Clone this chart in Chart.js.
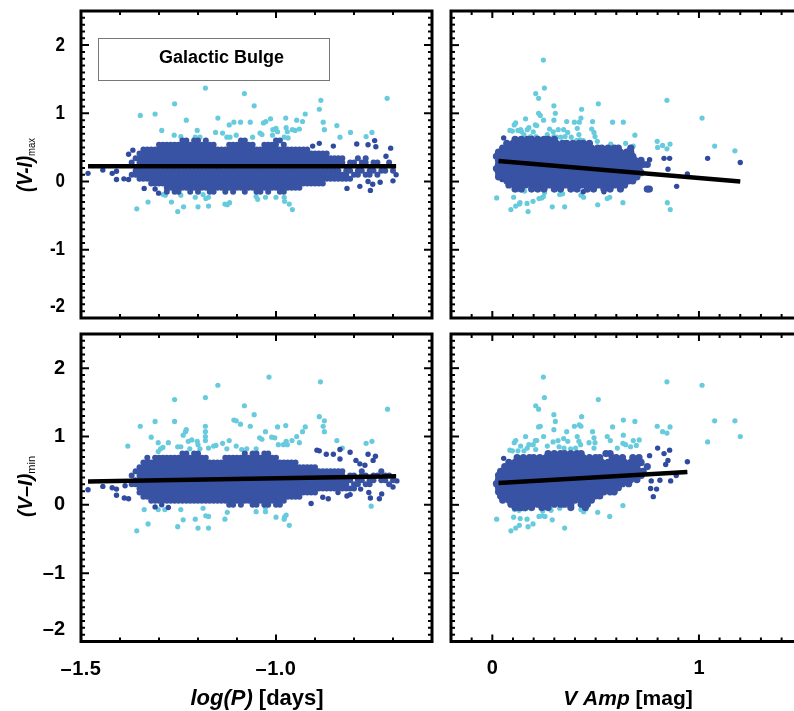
<!DOCTYPE html>
<html>
<head>
<meta charset="utf-8">
<script src="https://cdn.jsdelivr.net/npm/chart.js@4"></script>
<style>
  body { margin: 0; background: white; }
  canvas { position: absolute; left: 0; top: 0; }
</style>
</head>
<body>
<canvas id="topLeft" width="794" height="711"></canvas>
<canvas id="topRight" width="794" height="711"></canvas>
<canvas id="bottomLeft" width="794" height="711"></canvas>
<canvas id="bottomRight" width="794" height="711"></canvas>
<script>
// tick labels
const yTicks = [2, 1, 0, -1, -2];
const logPTicks = [-1.5, -1.0];
const ampTicks = [0, 1];

// fit lines
const fitMaxLogP = [[-1.482, .225], [-.692, .225]];
const fitMaxAmp = [[.03, .30], [1.2, 0]];
const fitMinLogP = [[-1.482, .34], [-.692, .42]];
const fitMinAmp = [[.03, .32], [.944, .48]];

// outliers, top left
const maxLogPCyan = [[-1.348,.97],[-1.31,.99],[-1.293,.75],[-1.26,1.14],[-1.181,1.37],[-1.081,1.29],[-1.056,1.11],[-.885,1.19],[-.889,1.06],[-.715,1.22],[-.844,.82],[-.925,.99],[-.947,.9],[-.932,.88],[-.975,.93],[-1.014,.92],[-1.026,.88],[-1.032,.86],[-1.066,.87],[-1.091,.87],[-1.108,.87],[-1.12,.83],[-1.149,.93],[-1.23,.9],[-1.202,.75],[-1.155,.72],[-1.137,.71],[-1.126,.65],[-1.118,.65],[-1.102,.68],[-1.06,.65],[-1.041,.71],[-1.036,.69],[-1.008,.76],[-1,.78],[-1.009,.68],[-.996,.73],[-.974,.79],[-.971,.73],[-.958,.76],[-.951,.75],[-.94,.77],[-.879,.87],[-.876,.76],[-.836,.65],[-.809,.72],[-.754,.72],[-.769,.66],[-.979,.65],[-.969,.64],[-1.261,.68],[-1.244,.66],[-1.195,.65],[-1.207,.65],[-1.357,-.4],[-1.328,-.3],[-1.289,-.19],[-1.284,-.2],[-1.268,-.3],[-1.252,-.44],[-1.244,-.2],[-1.237,-.37],[-1.207,-.23],[-1.2,-.37],[-1.187,-.19],[-1.18,-.25],[-1.173,-.23],[-1.173,-.36],[-1.131,-.33],[-1.125,-.34],[-1.119,-.31],[-1.051,-.22],[-1.047,-.26],[-1.027,-.23],[-1,-.23],[-.979,-.23],[-.978,-.29],[-.966,-.33],[-.958,-.41]];
const maxLogPDark = [[-1.482,.12],[-1.444,.17],[-1.42,.12],[-1.409,.15],[-1.409,.03],[-1.39,.04],[-1.378,.03],[-1.378,.4],[-1.367,.46],[-1.338,-.1],[-1.31,-.11],[-1.301,-.17],[-.818,-.1],[-.785,-.07],[-.764,0],[-.758,-.13],[-.752,-.04],[-.733,-.01],[-.7,.01],[-.692,.1],[-.706,.49],[-.747,.6],[-.744,.51],[-.764,.54],[-.793,.55],[-.853,.52],[-.889,.56],[-.906,.52],[-.718,.37]];
const maxLogPCore = [
  [.60, [-1.24,-1.23,-1.21,-1.20,-1.18,-1.09,-1.08,-1.00,-.99]],
  [.54, [-1.30,-1.28,-1.27,-1.25,-1.24,-1.22,-1.21,-1.19,-1.18,-1.16,-1.12,-1.10,-1.09,-1.07,-1.06,-1.03,-1.01,-1.00,-.98]],
  [.47, [-1.34,-1.32,-1.31,-1.29,-1.28,-1.26,-1.25,-1.23,-1.22,-1.20,-1.19,-1.17,-1.16,-1.14,-1.13,-1.11,-1.10,-1.08,-1.07,-1.05,-1.04,-1.02,-1.01,-.99,-.98,-.96,-.95,-.93,-.92]],
  [.41, [-1.35,-1.33,-1.32,-1.30,-1.29,-1.27,-1.26,-1.24,-1.23,-1.21,-1.20,-1.18,-1.17,-1.15,-1.14,-1.12,-1.11,-1.09,-1.08,-1.06,-1.05,-1.03,-1.02,-1.00,-.99,-.97,-.96,-.94,-.93,-.91,-.90,-.88,-.87]],
  [.34, [-1.36,-1.34,-1.33,-1.31,-1.30,-1.28,-1.27,-1.25,-1.24,-1.22,-1.21,-1.19,-1.18,-1.16,-1.15,-1.13,-1.12,-1.10,-1.09,-1.07,-1.06,-1.04,-1.03,-1.01,-1.00,-.98,-.97,-.95,-.94,-.92,-.91,-.89,-.88,-.86,-.85,-.83,-.79,-.77]],
  [.28, [-1.37,-1.35,-1.34,-1.32,-1.31,-1.29,-1.28,-1.26,-1.25,-1.23,-1.22,-1.20,-1.19,-1.17,-1.16,-1.14,-1.13,-1.11,-1.10,-1.08,-1.07,-1.05,-1.04,-1.02,-1.01,-.99,-.98,-.96,-.95,-.93,-.92,-.90,-.89,-.87,-.86,-.84,-.83,-.81,-.80,-.78,-.77,-.75,-.74,-.71]],
  [.16, [-1.36,-1.35,-1.33,-1.32,-1.30,-1.29,-1.27,-1.26,-1.24,-1.23,-1.21,-1.20,-1.18,-1.17,-1.15,-1.14,-1.12,-1.11,-1.09,-1.08,-1.06,-1.05,-1.03,-1.02,-1.00,-.99,-.97,-.96,-.94,-.93,-.91,-.90,-.88,-.87,-.85,-.84,-.82,-.81,-.79,-.78,-.76,-.75,-.73,-.72,-.70]],
  [.10, [-1.37,-1.36,-1.34,-1.33,-1.31,-1.30,-1.28,-1.27,-1.25,-1.24,-1.22,-1.21,-1.19,-1.18,-1.16,-1.15,-1.13,-1.12,-1.10,-1.09,-1.07,-1.06,-1.04,-1.03,-1.01,-1.00,-.98,-.97,-.95,-.94,-.92,-.91,-.89,-.88,-.86,-.85,-.83,-.82,-.80,-.79,-.77,-.76,-.74]],
  [.04, [-1.35,-1.34,-1.32,-1.31,-1.29,-1.28,-1.26,-1.25,-1.23,-1.22,-1.20,-1.19,-1.17,-1.16,-1.14,-1.13,-1.11,-1.10,-1.08,-1.07,-1.05,-1.04,-1.02,-1.01,-.99,-.98,-.96,-.95,-.93,-.92,-.90,-.89,-.87,-.86,-.84,-.83,-.81]],
  [-.03, [-1.32,-1.30,-1.29,-1.27,-1.26,-1.24,-1.23,-1.21,-1.20,-1.18,-1.17,-1.15,-1.14,-1.12,-1.11,-1.09,-1.08,-1.06,-1.05,-1.03,-1.02,-1.00,-.99,-.97,-.96,-.94,-.93,-.91,-.90,-.88]],
  [-.09, [-1.28,-1.27,-1.25,-1.24,-1.22,-1.21,-1.19,-1.18,-1.16,-1.15,-1.13,-1.12,-1.10,-1.09,-1.07,-1.06,-1.04,-1.03,-1.01,-1.00,-.98,-.97,-.95,-.94]],
  [-.15, [-1.28,-1.26,-1.25,-1.22,-1.20,-1.17,-1.16,-1.13,-1.11,-1.08,-1.05,-1.04,-1.02,-.99,-.98]],
  // solid interior of the cloud
  [.54, [-1.29,-1.26,-1.23,-1.20,-1.17,-1.11,-1.08,-1.02]],
  [.47, [-1.33,-1.30,-1.27,-1.24,-1.21,-1.18,-1.15,-1.12,-1.09,-1.06,-1.03,-1.00,-.97,-.94]],
  [.41, [-1.34,-1.31,-1.28,-1.25,-1.22,-1.19,-1.16,-1.13,-1.10,-1.07,-1.04,-1.01,-.98,-.95,-.92,-.89]],
  [.34, [-1.35,-1.32,-1.29,-1.26,-1.23,-1.20,-1.17,-1.14,-1.11,-1.08,-1.05,-1.02,-.99,-.96,-.93,-.90,-.87,-.84]],
  [.28, [-1.33,-1.30,-1.27,-1.24,-1.21,-1.18,-1.15,-1.12,-1.09,-1.06,-1.03,-1.00,-.97,-.94,-.91,-.88,-.85]],
  [.16, [-1.34,-1.31,-1.28,-1.25,-1.22,-1.19,-1.16,-1.13,-1.10,-1.07,-1.04,-1.01,-.98,-.95,-.92,-.89,-.86]],
  [.10, [-1.35,-1.32,-1.29,-1.26,-1.23,-1.20,-1.17,-1.14,-1.11,-1.08,-1.05,-1.02,-.99,-.96,-.93,-.90,-.87,-.84]],
  [.04, [-1.33,-1.30,-1.27,-1.24,-1.21,-1.18,-1.15,-1.12,-1.09,-1.06,-1.03,-1.00,-.97,-.94,-.91,-.88,-.85,-.82]],
  [-.03, [-1.31,-1.28,-1.25,-1.22,-1.19,-1.16,-1.13,-1.10,-1.07,-1.04,-1.01,-.98,-.95,-.92,-.89]],
  [-.09, [-1.26,-1.23,-1.20,-1.17,-1.14,-1.11,-1.08,-1.05,-1.02,-.99,-.96]]
];

// outliers, top right
const maxAmpCyan = [[.247,1.78],[.252,1.37],[.21,1.29],[.224,1.22],[.298,1.11],[.432,1.06],[.513,1.14],[.845,1.19],[.224,1],[.232,.97],[.305,1],[.298,.9],[.248,.9],[.161,.92],[.36,.88],[.397,.87],[.421,.87],[.429,.93],[.485,.88],[.582,.87],[.634,.87],[1.015,.93],[.113,.86],[.106,.83],[.208,.83],[.215,.82],[.177,.79],[.169,.76],[.085,.75],[.097,.74],[.124,.75],[.137,.76],[.142,.73],[.153,.69],[.198,.73],[.277,.77],[.319,.76],[.345,.76],[.365,.72],[.295,.73],[.298,.66],[.266,.69],[.411,.78],[.481,.77],[.492,.72],[.497,.66],[.419,.69],[.382,.65],[.352,.66],[.331,.65],[.31,.65],[.185,.66],[.211,.66],[.424,.61],[.408,.6],[.44,.6],[.508,.59],[.573,.55],[.645,.56],[.69,.68],[.798,.59],[.8,.5],[.824,.53],[.845,.48],[.86,.55],[1.076,.52],[1.174,.45],[.682,.52],[.021,-.24],[.09,-.41],[.103,-.23],[.113,-.36],[.124,-.12],[.108,-.1],[.134,-.31],[.131,-.33],[.156,-.14],[.168,-.32],[.173,-.44],[.197,-.29],[.226,-.25],[.239,-.24],[.247,-.22],[.253,-.16],[.29,-.37],[.326,-.19],[.34,-.18],[.35,-.37],[.429,-.2],[.442,-.23],[.51,-.34],[.556,-.25],[.568,-.23],[.632,-.31],[.847,-.31],[.861,-.41]];
const maxAmpDark = [[1.042,.34],[1.2,.28],[.892,-.07],[.944,.11],[.831,.34],[.858,.34],[.761,.32],[.055,.64],[.047,.03],[.85,.18],[.44,-.15],[.54,-.15]];
const maxAmpCore = [
  [.62, [.11,.14,.17,.19,.22,.25,.27,.30]],
  [.56, [.07,.10,.12,.15,.18,.20,.23,.26,.28,.31,.34,.36,.39,.42,.44,.47]],
  [.49, [.05,.08,.11,.13,.16,.19,.21,.24,.27,.29,.32,.35,.37,.40,.43,.45,.48,.51,.53,.56,.59,.61,.67]],
  [.43, [.03,.06,.09,.11,.14,.17,.19,.22,.25,.27,.30,.33,.35,.38,.41,.43,.46,.49,.51,.54,.57,.59,.62,.65,.67]],
  [.37, [.02,.04,.07,.10,.12,.15,.18,.20,.23,.26,.28,.31,.34,.36,.39,.42,.44,.47,.50,.52,.55,.58,.60,.63,.66,.68]],
  [.31, [.03,.05,.08,.11,.13,.16,.19,.21,.24,.27,.29,.32,.35,.37,.40,.43,.45,.48,.51,.53,.56,.59,.61,.64,.67,.69,.72]],
  [.25, [.03,.06,.09,.11,.14,.17,.19,.22,.25,.27,.30,.33,.35,.38,.41,.43,.46,.49,.51,.54,.57,.59,.62,.65,.67,.70,.73,.75]],
  [.19, [.02,.04,.07,.10,.12,.15,.18,.20,.23,.26,.28,.31,.34,.36,.39,.42,.44,.47,.50,.52,.55,.58,.60,.63,.66,.68,.71]],
  [.13, [.03,.05,.08,.11,.13,.16,.19,.21,.24,.27,.29,.32,.35,.37,.40,.43,.45,.48,.51,.53,.56,.59,.61,.64,.67,.69,.72]],
  [.07, [.03,.06,.09,.11,.14,.17,.19,.22,.25,.27,.30,.33,.35,.38,.41,.43,.46,.49,.51,.54,.57,.59,.62,.65,.67,.70]],
  [.01, [.07,.10,.12,.15,.18,.20,.23,.26,.28,.31,.34,.36,.39,.42,.44,.47,.50,.52,.55,.58,.60,.63,.66,.68]],
  [-.05, [.08,.11,.13,.16,.19,.21,.24,.27,.29,.32,.35,.37,.40,.43,.45,.48,.51,.53,.56,.59,.61,.64]],
  [-.11, [.11,.14,.19,.22,.25,.30,.33,.38,.41,.46,.49,.54,.57,.62,.75,.76]]
];

// outliers, bottom left
const minLogPCyan = [[-1.018,1.87],[-.886,1.8],[-1.149,1.75],[-1.26,1.54],[-1.181,1.57],[-1.081,1.45],[-1.056,1.32],[-.714,1.4],[-.889,1.29],[-.876,1.23],[-1.108,1.24],[-1.102,1.23],[-1.091,1.18],[-1.066,1.15],[-1.31,1.22],[-1.26,1.22],[-1.348,1.15],[-1.181,1.15],[-.996,1.14],[-.975,1.16],[-.879,1.15],[-.876,1.07],[-.925,1.14],[-.932,1.07],[-1.027,1.07],[-1.23,1.1],[-1.232,1.07],[-1.238,1.02],[-1.181,1.07],[-1.181,1],[-1.181,.94],[-1.32,.99],[-1.302,.91],[-1.276,.91],[-1.38,.86],[-1.29,.84],[-1.296,.82],[-1.302,.78],[-1.252,.85],[-1.244,.85],[-1.225,.93],[-1.216,.95],[-1.202,.93],[-1.2,.88],[-1.221,.82],[-1.195,.82],[-1.173,.83],[-1.16,.86],[-1.154,.87],[-1.137,.9],[-1.12,.94],[-1.102,.86],[-1.126,.82],[-1.088,.81],[-1.075,.82],[-1.051,.82],[-1.042,.98],[-1.036,.96],[-1.011,.99],[-1.003,.98],[-.947,1],[-.959,.94],[-.974,.93],[-.994,.88],[-.981,.88],[-.971,.88],[-.94,.91],[-.844,.94],[-.769,.9],[-.754,.93],[-.83,.83],[-1.357,-.38],[-1.338,-.07],[-1.328,-.28],[-1.302,-.07],[-1.285,-.07],[-1.252,-.32],[-1.238,-.22],[-1.244,-.07],[-1.207,-.21],[-1.2,-.34],[-1.187,-.05],[-1.18,-.16],[-1.173,-.17],[-1.173,-.34],[-1.131,-.21],[-1.125,-.11],[-1.051,-.1],[-1.027,-.1],[-1.027,-.04],[-1,-.18],[-.979,-.21],[-.978,-.18],[-.974,-.15],[-.966,-.3],[-.756,-.02]];
const minLogPDark = [[-1.482,.22],[-1.444,.27],[-1.42,.25],[-1.409,.23],[-1.409,.14],[-1.387,.28],[-1.389,.1],[-1.378,.09],[-1.31,-.03],[-1.293,0],[-1.276,-.04],[-.91,.02],[-.88,.11],[-.866,.09],[-.841,.18],[-.818,.13],[-.81,.15],[-.783,.23],[-.762,.18],[-.758,.1],[-.729,.16],[-.735,.09],[-.7,.26],[-.69,.35],[-.81,.77],[-.836,.67],[-.853,.74],[-.871,.74],[-.836,.81],[-.895,.8],[-.889,.79],[-.745,.71],[-.764,.74],[-.751,.65],[-.795,.65],[-.785,.6],[-.772,.58]];
const minLogPCore = [
  [.75, [-1.24,-1.23,-1.21,-1.20,-1.08,-1.06,-1.05,-1.03,-1.02]],
  [.69, [-1.33,-1.31,-1.30,-1.28,-1.27,-1.25,-1.24,-1.22,-1.21,-1.19,-1.18,-1.13,-1.12,-1.10,-1.09,-1.07,-1.06,-1.04,-1.03,-1.01,-1.00]],
  [.62, [-1.34,-1.32,-1.31,-1.29,-1.28,-1.26,-1.25,-1.23,-1.22,-1.20,-1.19,-1.17,-1.16,-1.14,-1.13,-1.11,-1.10,-1.08,-1.07,-1.05,-1.04,-1.02,-1.01,-.99,-.98,-.96,-.95]],
  [.55, [-1.35,-1.33,-1.32,-1.30,-1.29,-1.27,-1.26,-1.24,-1.23,-1.21,-1.20,-1.18,-1.17,-1.15,-1.14,-1.12,-1.11,-1.09,-1.08,-1.06,-1.05,-1.03,-1.02,-1.00,-.99,-.97,-.96,-.94,-.93,-.91,-.90]],
  [.49, [-1.36,-1.34,-1.33,-1.31,-1.30,-1.28,-1.27,-1.25,-1.24,-1.22,-1.21,-1.19,-1.18,-1.16,-1.15,-1.13,-1.12,-1.10,-1.09,-1.07,-1.06,-1.04,-1.03,-1.01,-1.00,-.98,-.97,-.95,-.94,-.92,-.91,-.89,-.88,-.86,-.85,-.83,-.78,-.73]],
  [.43, [-1.37,-1.35,-1.34,-1.32,-1.31,-1.29,-1.28,-1.26,-1.25,-1.23,-1.22,-1.20,-1.19,-1.17,-1.16,-1.14,-1.13,-1.11,-1.10,-1.08,-1.07,-1.05,-1.04,-1.02,-1.01,-.99,-.98,-.96,-.95,-.93,-.92,-.90,-.89,-.87,-.86,-.84,-.83,-.81,-.80,-.78,-.77,-.75,-.74,-.72,-.71]],
  [.36, [-1.36,-1.35,-1.33,-1.32,-1.30,-1.29,-1.27,-1.26,-1.24,-1.23,-1.21,-1.20,-1.18,-1.17,-1.15,-1.14,-1.12,-1.11,-1.09,-1.08,-1.06,-1.05,-1.03,-1.02,-1.00,-.99,-.97,-.96,-.94,-.93,-.91,-.90,-.88,-.87,-.85,-.84,-.82,-.81,-.79,-.78,-.76,-.75,-.73,-.72,-.70]],
  [.30, [-1.37,-1.36,-1.34,-1.33,-1.31,-1.30,-1.28,-1.27,-1.25,-1.24,-1.22,-1.21,-1.19,-1.18,-1.16,-1.15,-1.13,-1.12,-1.10,-1.09,-1.07,-1.06,-1.04,-1.03,-1.01,-1.00,-.98,-.97,-.95,-.94,-.92,-.91,-.89,-.88,-.86,-.85,-.83,-.82,-.80,-.79,-.77,-.76,-.71]],
  [.24, [-1.35,-1.34,-1.32,-1.31,-1.29,-1.28,-1.26,-1.25,-1.23,-1.22,-1.20,-1.19,-1.17,-1.16,-1.14,-1.13,-1.11,-1.10,-1.08,-1.07,-1.05,-1.04,-1.02,-1.01,-.99,-.98,-.96,-.95,-.93,-.92,-.90,-.89,-.87,-.86,-.84,-.83,-.81,-.80]],
  [.18, [-1.35,-1.33,-1.32,-1.30,-1.29,-1.27,-1.26,-1.24,-1.23,-1.21,-1.20,-1.18,-1.17,-1.15,-1.14,-1.12,-1.11,-1.09,-1.08,-1.06,-1.05,-1.03,-1.02,-1.00,-.99,-.97,-.96,-.94,-.93,-.91,-.90]],
  [.12, [-1.34,-1.33,-1.31,-1.30,-1.28,-1.27,-1.25,-1.24,-1.22,-1.21,-1.19,-1.18,-1.16,-1.15,-1.13,-1.12,-1.10,-1.09,-1.07,-1.06,-1.04,-1.03,-1.01,-1.00,-.98,-.97,-.95,-.94]],
  [.06, [-1.32,-1.31,-1.29,-1.28,-1.26,-1.25,-1.23,-1.22,-1.20,-1.19,-1.17,-1.16,-1.14,-1.13,-1.11,-1.10,-1.08,-1.07,-1.05,-1.04,-1.02,-1.01,-.99,-.98]],
  [.00, [-1.12,-1.11,-1.09,-1.06,-1.05,-1.03,-1.02,-1.00,-.99]],
  // solid interior of the cloud
  [.69, [-1.29,-1.26,-1.23,-1.20,-1.11,-1.08,-1.05,-1.02]],
  [.62, [-1.33,-1.30,-1.27,-1.24,-1.21,-1.18,-1.15,-1.12,-1.09,-1.06,-1.03,-1.00,-.97]],
  [.55, [-1.34,-1.31,-1.28,-1.25,-1.22,-1.19,-1.16,-1.13,-1.10,-1.07,-1.04,-1.01,-.98,-.95,-.92]],
  [.49, [-1.35,-1.32,-1.29,-1.26,-1.23,-1.20,-1.17,-1.14,-1.11,-1.08,-1.05,-1.02,-.99,-.96,-.93,-.90,-.87,-.84]],
  [.43, [-1.33,-1.30,-1.27,-1.24,-1.21,-1.18,-1.15,-1.12,-1.09,-1.06,-1.03,-1.00,-.97,-.94,-.91,-.88,-.85]],
  [.36, [-1.34,-1.31,-1.28,-1.25,-1.22,-1.19,-1.16,-1.13,-1.10,-1.07,-1.04,-1.01,-.98,-.95,-.92,-.89,-.86,-.83]],
  [.30, [-1.35,-1.32,-1.29,-1.26,-1.23,-1.20,-1.17,-1.14,-1.11,-1.08,-1.05,-1.02,-.99,-.96,-.93,-.90,-.87,-.84]],
  [.24, [-1.33,-1.30,-1.27,-1.24,-1.21,-1.18,-1.15,-1.12,-1.09,-1.06,-1.03,-1.00,-.97,-.94,-.91,-.88,-.85,-.82]],
  [.18, [-1.34,-1.31,-1.28,-1.25,-1.22,-1.19,-1.16,-1.13,-1.10,-1.07,-1.04,-1.01,-.98,-.95,-.92]],
  [.12, [-1.32,-1.29,-1.26,-1.23,-1.20,-1.17,-1.14,-1.11,-1.08,-1.05,-1.02,-.99,-.96]],
  [.06, [-1.30,-1.27,-1.24,-1.21,-1.18,-1.15,-1.12,-1.09,-1.06,-1.03,-1.00]]
];

// outliers, bottom right
const minAmpCyan = [[.247,1.87],[.845,1.8],[1.015,1.75],[.252,1.57],[.513,1.54],[.21,1.45],[.224,1.4],[.298,1.32],[.432,1.29],[.305,1.22],[.634,1.24],[.69,1.22],[1.076,1.23],[1.174,1.23],[.397,1.15],[.421,1.17],[.429,1.15],[.582,1.14],[.224,1.14],[.232,1.15],[.298,1.1],[.36,1.07],[.485,1.07],[.798,1.15],[.824,1.07],[.845,1.05],[.86,1.14],[.634,1.02],[1.2,1],[1.042,.92],[.161,1],[.248,1],[.113,.94],[.106,.91],[.208,.94],[.215,.94],[.137,.86],[.177,.88],[.198,.88],[.169,.83],[.085,.8],[.097,.79],[.124,.79],[.153,.79],[.21,.81],[.266,.86],[.294,.92],[.318,.94],[.345,.97],[.365,.93],[.411,1],[.419,.93],[.468,.91],[.492,.98],[.497,.91],[.556,1],[.571,.94],[.605,.83],[.632,.9],[.645,.88],[.669,.85],[.682,.94],[.711,.95],[.697,.87],[.323,.85],[.347,.83],[.379,.82],[.403,.83],[.427,.88],[.492,.83],[.021,-.21],[.09,-.38],[.103,-.18],[.113,-.34],[.131,-.3],[.135,-.2],[.108,-.07],[.129,-.08],[.156,-.06],[.168,-.21],[.173,-.32],[.197,-.28],[.226,-.17],[.242,-.16],[.255,-.17],[.244,-.09],[.29,-.22],[.284,-.08],[.326,-.05],[.35,-.34],[.429,-.07],[.442,-.1],[.452,-.06],[.51,-.11],[.568,-.17],[.632,-.01]];
const minAmpDark = [[.944,.63],[.8,.83],[.858,.8],[.831,.75],[.85,.65],[.839,.59],[.761,.72],[.779,.12],[.766,.24],[.795,.23],[.811,.36],[.863,.35],[.89,.43],[.769,.35],[.055,.68],[.047,.09]];
const minAmpCore = [
  [.75, [.27,.30,.33,.35,.38,.41,.43,.55,.57]],
  [.69, [.12,.15,.18,.20,.23,.26,.28,.31,.34,.36,.39,.42,.44,.47,.50,.52,.58,.60,.63,.68,.71]],
  [.62, [.08,.11,.13,.16,.19,.21,.24,.27,.29,.32,.35,.37,.40,.43,.45,.48,.51,.53,.56,.59,.61,.64,.67,.69,.72]],
  [.56, [.06,.09,.11,.14,.17,.19,.22,.25,.27,.30,.33,.35,.38,.41,.43,.46,.49,.51,.54,.57,.59,.62,.65,.67,.70,.75]],
  [.49, [.04,.07,.10,.12,.15,.18,.20,.23,.26,.28,.31,.34,.36,.39,.42,.44,.47,.50,.52,.55,.58,.60,.63,.66,.68,.71,.73]],
  [.43, [.03,.05,.08,.11,.13,.16,.19,.21,.24,.27,.29,.32,.35,.37,.40,.43,.45,.48,.51,.53,.56,.59,.61,.64,.67,.69,.72]],
  [.37, [.03,.06,.09,.11,.14,.17,.19,.22,.25,.27,.30,.33,.35,.38,.41,.43,.46,.49,.51,.54,.57,.59,.62,.65,.67,.70]],
  [.31, [.02,.04,.07,.10,.12,.15,.18,.20,.23,.26,.28,.31,.34,.36,.39,.42,.44,.47,.50,.52,.55,.58,.60,.63,.66]],
  [.25, [.03,.05,.08,.11,.13,.16,.19,.21,.24,.27,.29,.32,.35,.37,.40,.43,.45,.48,.51,.53,.56,.59,.61]],
  [.19, [.03,.06,.09,.11,.14,.17,.19,.22,.25,.27,.30,.33,.35,.38,.41,.43,.46,.49,.51,.54,.57,.59]],
  [.13, [.04,.07,.10,.12,.15,.18,.20,.23,.26,.28,.31,.34,.36,.39,.42,.44,.47,.50,.52]],
  [.07, [.05,.08,.11,.13,.16,.19,.21,.24,.27,.29,.32,.35,.37,.40,.43,.45,.48]],
  [.01, [.09,.11,.14,.17,.19,.22,.25,.27,.30,.33,.35,.38,.43,.46]],
  [-.04, [.11,.13,.14,.16,.19,.24,.27,.38,.45]]
];

const DARK = '#3953a4';
const CYAN = '#67cbdd';
const FONT = '"Liberation Sans", Arial, sans-serif';

function pairs(list) {
  return list.map(([x, y]) => ({ x, y }));
}

function rows(list) {
  return list.flatMap(([y, xs]) => xs.map((x) => ({ x, y })));
}

// frame, inward ticks, tick labels and titles all go through the chart's scales
function framePlugin(o) {
  return {
    id: 'frame',
    afterDraw(chart) {
      const { ctx, chartArea: a, scales: { x, y } } = chart;
      ctx.save();
      ctx.strokeStyle = 'black';
      ctx.fillStyle = 'black';

      for (let i = -20; i <= 25; i++) {
        const p = y.getPixelForValue(i / 10);
        const len = i % 10 === 0 ? 8 : 4;
        ctx.lineWidth = 2;
        ctx.beginPath();
        ctx.moveTo(a.left, p);
        ctx.lineTo(a.left + len, p);
        if (!o.openRight) {
          ctx.moveTo(a.right, p);
          ctx.lineTo(a.right - len, p);
        }
        ctx.stroke();
      }
      for (let i = Math.ceil(x.min * 10); i <= Math.floor(x.max * 10); i++) {
        const p = x.getPixelForValue(i / 10);
        const len = i % 10 === 0 ? 7 : 4;
        ctx.lineWidth = 2;
        ctx.beginPath();
        ctx.moveTo(p, a.top);
        ctx.lineTo(p, a.top + len);
        ctx.moveTo(p, a.bottom);
        ctx.lineTo(p, a.bottom - len);
        ctx.stroke();
      }

      ctx.lineWidth = 3;
      ctx.beginPath();
      ctx.moveTo(a.right, a.top);
      ctx.lineTo(a.left, a.top);
      ctx.lineTo(a.left, a.bottom);
      ctx.lineTo(a.right, a.bottom);
      if (!o.openRight) ctx.closePath();
      ctx.stroke();

      if (o.yLabels) o.yLabels(ctx, y);
      if (o.xLabels) o.xLabels(ctx, x);
      if (o.extra) o.extra(ctx);
      ctx.restore();
    },
  };
}

function squeezed(ctx, text, px, py, sx, font, align) {
  ctx.save();
  ctx.translate(px, py);
  ctx.scale(sx, 1);
  ctx.font = font;
  ctx.textAlign = align;
  ctx.textBaseline = 'middle';
  ctx.fillText(text, 0, 0);
  ctx.restore();
}

function yLabelsTop(ctx, y) {
  yTicks.forEach((t) => {
    const py = y.getPixelForValue(t) + (t === -2 ? -12 : 0);
    squeezed(ctx, String(t), 65, py, 0.85, 'bold 20px ' + FONT, 'right');
  });
}

function yLabelsBottom(ctx, y) {
  yTicks.forEach((t) => {
    const py = y.getPixelForValue(t) + (t === -2 ? -12 : 0);
    const s = t < 0 ? '\u2013' + Math.abs(t) : String(t);
    squeezed(ctx, s, 65, py, 1, 'bold 20px ' + FONT, 'right');
  });
}

function xTitle(ctx, italic, plain, cx, size) {
  const a = 'italic bold ' + size + 'px ' + FONT;
  const b = 'bold ' + size + 'px ' + FONT;
  ctx.font = a;
  const wa = ctx.measureText(italic).width;
  ctx.font = b;
  const wb = ctx.measureText(plain).width;
  const left = cx - (wa + wb) / 2;
  ctx.textAlign = 'left';
  ctx.textBaseline = 'alphabetic';
  ctx.font = a;
  ctx.fillText(italic, left, 705);
  ctx.font = b;
  ctx.fillText(plain, left + wa, 705);
}

function yTitle(ctx, main, sub, baseX, startY, sx, size) {
  ctx.save();
  ctx.translate(baseX, startY);
  ctx.rotate(-Math.PI / 2);
  ctx.scale(sx, 1);
  ctx.textAlign = 'left';
  ctx.textBaseline = 'alphabetic';
  ctx.font = 'italic bold ' + size + 'px ' + FONT;
  ctx.fillText(main, 0, 0);
  const w = ctx.measureText(main).width;
  ctx.font = '11px ' + FONT;
  ctx.fillText(sub, w, 3);
  ctx.restore();
}

function panel(id, o) {
  new Chart(document.getElementById(id), {
    type: 'scatter',
    plugins: [framePlugin(o)],
    data: {
      datasets: [
        { data: pairs(o.fit), showLine: true, borderColor: 'black', borderWidth: 4.5, pointRadius: 0, order: 0 },
        { data: rows(o.core), backgroundColor: DARK, pointRadius: o.coreRadius, pointBorderWidth: 0, order: 1 },
        { data: pairs(o.dark), backgroundColor: '#304a9f', pointRadius: 2.7, pointBorderWidth: 0, order: 2 },
        { data: pairs(o.cyan), backgroundColor: CYAN, pointRadius: 2.6, pointBorderWidth: 0, order: 3 },
      ],
    },
    options: {
      responsive: false,
      animation: false,
      layout: { padding: o.padding, autoPadding: false },
      plugins: {
        legend: { display: false },
        tooltip: { enabled: false },
      },
      scales: {
        x: { display: false, type: 'linear', min: o.xRange[0], max: o.xRange[1] },
        y: { display: false, type: 'linear', min: -2, max: 2.5 },
      },
    },
  });
}

const logPRange = [-1.5, -0.6];
const ampRange = [-0.2, 1.46];

panel('topLeft', {
  fit: fitMaxLogP, core: maxLogPCore, dark: maxLogPDark, cyan: maxLogPCyan,
  coreRadius: 3,
  xRange: logPRange,
  padding: { left: 81, right: 362, top: 11, bottom: 393 },
  yLabels: yLabelsTop,
  extra(ctx) {
    yTitle(ctx, '(V-I)', 'max', 32, 192, 0.86, 22);
    ctx.strokeStyle = '#777';
    ctx.lineWidth = 1;
    ctx.strokeRect(98.5, 38.5, 231, 42);
    ctx.font = 'bold 18px ' + FONT;
    ctx.textAlign = 'center';
    ctx.textBaseline = 'middle';
    ctx.fillText('Galactic Bulge', 221.5, 58.5);
  },
});

panel('topRight', {
  fit: fitMaxAmp, core: maxAmpCore, dark: maxAmpDark, cyan: maxAmpCyan,
  coreRadius: 3.6,
  openRight: true,
  xRange: ampRange,
  padding: { left: 451, right: 0, top: 11, bottom: 393 },
});

panel('bottomLeft', {
  fit: fitMinLogP, core: minLogPCore, dark: minLogPDark, cyan: minLogPCyan,
  coreRadius: 3,
  xRange: logPRange,
  padding: { left: 81, right: 362, top: 334, bottom: 69.5 },
  yLabels: yLabelsBottom,
  xLabels(ctx, x) {
    logPTicks.forEach((t) => {
      ctx.font = 'bold 20px ' + FONT;
      ctx.letterSpacing = '0.5px';
      ctx.textAlign = 'center';
      ctx.textBaseline = 'middle';
      ctx.fillText('\u2013' + Math.abs(t).toFixed(1), x.getPixelForValue(t), 669);
      ctx.letterSpacing = '0px';
    });
    xTitle(ctx, 'log(P)', ' [days]', 257, 22);
  },
  extra(ctx) {
    yTitle(ctx, '(V\u2013I)', 'min', 32, 517, 1, 20);
  },
});

panel('bottomRight', {
  fit: fitMinAmp, core: minAmpCore, dark: minAmpDark, cyan: minAmpCyan,
  coreRadius: 3.6,
  openRight: true,
  xRange: ampRange,
  padding: { left: 451, right: 0, top: 334, bottom: 69.5 },
  xLabels(ctx, x) {
    ampTicks.forEach((t) => {
      ctx.font = 'bold 20px ' + FONT;
      ctx.textAlign = 'center';
      ctx.textBaseline = 'middle';
      ctx.fillText(String(t), x.getPixelForValue(t), 668);
    });
    xTitle(ctx, 'V Amp', ' [mag]', 628, 21);
  },
});
</script>
</body>
</html>
